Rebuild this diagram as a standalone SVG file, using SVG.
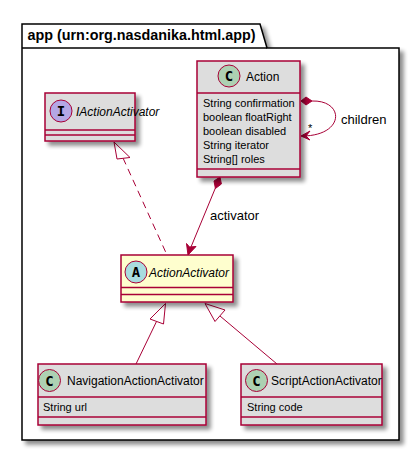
<svg xmlns="http://www.w3.org/2000/svg" width="420" height="453" viewBox="0 0 420 453">
<defs>
<filter id="sh" x="-20%" y="-20%" width="150%" height="150%">
<feGaussianBlur in="SourceAlpha" stdDeviation="2"/>
<feOffset dx="4" dy="4" result="b"/>
<feComponentTransfer><feFuncA type="linear" slope="0.45"/></feComponentTransfer>
<feMerge><feMergeNode/><feMergeNode in="SourceGraphic"/></feMerge>
</filter>
</defs>
<style>
.t{font-family:"Liberation Sans",Arial,sans-serif;fill:#000}
.cls{fill:#DDDDDD;stroke:#A80036;stroke-width:1.5}
.abs{fill:#FEFECE;stroke:#A80036;stroke-width:1.5}
.div{stroke:#A80036;stroke-width:1.5}
.cn{font-size:12px}
.at{font-size:11px}
.lb{font-size:13px}
.circ{stroke:#A80036;stroke-width:1}
.lt{font-family:"DejaVu Sans Mono","Liberation Mono",monospace;font-weight:bold;font-size:14px;fill:#000}
.ln{fill:none;stroke:#A80036;stroke-width:1}
</style>
<g id="package">
<path d="M22,24 L260,24 L267,48 L399,48 L399,440 L22,440 Z" fill="#FFFFFF" stroke="#000" stroke-width="1.5" filter="url(#sh)"/>
<line x1="22" y1="48" x2="267" y2="48" stroke="#000" stroke-width="1.5"/>
<text class="t" x="27.5" y="40" font-size="14" font-weight="bold" textLength="228" lengthAdjust="spacingAndGlyphs">app (urn:org.nasdanika.html.app)</text>
</g>
<g id="connectors">
<path class="ln" d="M312,101 C345,100 345,136 302,136"/>
<polygon points="301,101 306,97 312,101 306,105" fill="#A80036" stroke="#A80036"/>
<polygon points="301,136 310,131 306,136 310,140" fill="#A80036" stroke="#A80036"/>
<text class="t" x="308" y="132" font-size="11">*</text>
<text class="t lb" x="341" y="124">children</text>
<line class="ln" x1="123" y1="158" x2="167" y2="255" stroke-dasharray="7,5"/>
<polygon points="114,142 117,159 130,157.5" fill="#FFFFFF" stroke="#A80036"/>
<line class="ln" x1="215.4" y1="188" x2="188.5" y2="253"/>
<polygon points="220,177 221.4,184 215.4,188.5 214,181" fill="#A80036" stroke="#A80036"/>
<polygon points="188,255 186.5,243.5 189.5,247 196,246.5" fill="#A80036" stroke="#A80036"/>
<text class="t lb" x="210" y="220">activator</text>
<line class="ln" x1="156.5" y1="321.5" x2="136" y2="364"/>
<polygon points="165.5,303.5 150,319 163.5,324" fill="#FFFFFF" stroke="#A80036"/>
<line class="ln" x1="220" y1="316" x2="277" y2="364"/>
<polygon points="205,303.5 215,321.5 225,310" fill="#FFFFFF" stroke="#A80036"/>
</g>
<g id="IActionActivator">
<rect class="cls" x="45" y="93" width="90" height="48" filter="url(#sh)"/>
<line class="div" x1="45" y1="130" x2="135" y2="130"/>
<line class="div" x1="45" y1="135" x2="135" y2="135"/>
<circle class="circ" cx="61" cy="111" r="11" fill="#B4A7E5"/>
<text class="lt" x="61" y="116" text-anchor="middle">I</text>
<text class="t cn" x="76" y="115.5" font-style="italic">IActionActivator</text>
</g>
<g id="Action">
<rect class="cls" x="197" y="61" width="103" height="116" filter="url(#sh)"/>
<line class="div" x1="197" y1="93" x2="300" y2="93"/>
<line class="div" x1="197" y1="169" x2="300" y2="169"/>
<circle class="circ" cx="229" cy="76" r="11" fill="#ADD1B2"/>
<text class="lt" x="229" y="81" text-anchor="middle">C</text>
<text class="t cn" x="246" y="81">Action</text>
<text class="t at" x="203" y="107">String confirmation</text>
<text class="t at" x="203" y="121">boolean floatRight</text>
<text class="t at" x="203" y="135">boolean disabled</text>
<text class="t at" x="203" y="149">String iterator</text>
<text class="t at" x="203" y="163">String[] roles</text>
</g>
<g id="ActionActivator">
<rect class="abs" x="121" y="255" width="112" height="47" filter="url(#sh)"/>
<line class="div" x1="121" y1="287.5" x2="233" y2="287.5"/>
<line class="div" x1="121" y1="294.5" x2="233" y2="294.5"/>
<circle class="circ" cx="136" cy="272" r="11" fill="#A9DCDF"/>
<text class="lt" x="136" y="277" text-anchor="middle">A</text>
<text class="t cn" x="149" y="276.5" font-style="italic">ActionActivator</text>
</g>
<g id="NavigationActionActivator">
<rect class="cls" x="38" y="364" width="168" height="61" filter="url(#sh)"/>
<line class="div" x1="38" y1="397" x2="206" y2="397"/>
<line class="div" x1="38" y1="417" x2="206" y2="417"/>
<circle class="circ" cx="49.5" cy="380.5" r="11" fill="#ADD1B2"/>
<text class="lt" x="49.5" y="385.5" text-anchor="middle">C</text>
<text class="t cn" x="67" y="385">NavigationActionActivator</text>
<text class="t at" x="43" y="411">String url</text>
</g>
<g id="ScriptActionActivator">
<rect class="cls" x="241" y="364" width="141" height="61" filter="url(#sh)"/>
<line class="div" x1="241" y1="397" x2="382" y2="397"/>
<line class="div" x1="241" y1="417" x2="382" y2="417"/>
<circle class="circ" cx="256.5" cy="380.5" r="11" fill="#ADD1B2"/>
<text class="lt" x="256.5" y="385.5" text-anchor="middle">C</text>
<text class="t cn" x="271" y="385">ScriptActionActivator</text>
<text class="t at" x="247" y="411">String code</text>
</g>
</svg>
